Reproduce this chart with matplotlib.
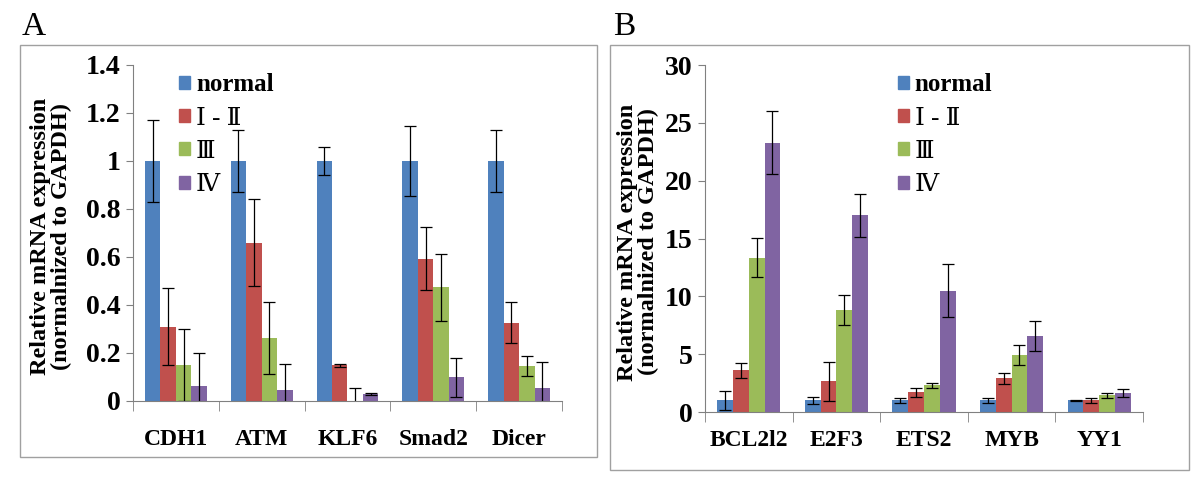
import numpy as np
import matplotlib
matplotlib.use("Agg")
import matplotlib.pyplot as plt
from matplotlib.patches import Rectangle, Patch

plt.rcParams["font.family"] = ["Liberation Serif", "DejaVu Serif"]

series = ["normal", "Ⅰ - Ⅱ", "Ⅲ", "Ⅳ"]
colors = ["#4F81BD", "#C0504D", "#9BBB59", "#8064A2"]

# Panel A: tumour suppressors
genes_a = ["CDH1", "ATM", "KLF6", "Smad2", "Dicer"]
vals_a = [
    [1.0, 1.0, 1.0, 1.0, 1.0],
    [0.31, 0.66, 0.148, 0.593, 0.327],
    [0.152, 0.263, 0.0, 0.473, 0.146],
    [0.062, 0.046, 0.029, 0.098, 0.054],
]
errs_a = [
    [0.17, 0.13, 0.06, 0.145, 0.13],
    [0.16, 0.18, 0.006, 0.13, 0.085],
    [0.15, 0.15, 0.053, 0.14, 0.04],
    [0.14, 0.11, 0.006, 0.08, 0.11],
]

# Panel B: oncogenes
genes_b = ["BCL2l2", "E2F3", "ETS2", "MYB", "YY1"]
vals_b = [
    [1.0, 1.0, 1.0, 1.0, 1.0],
    [3.6, 2.65, 1.7, 2.9, 1.0],
    [13.35, 8.8, 2.3, 4.95, 1.45],
    [23.3, 17.0, 10.5, 6.6, 1.65],
]
errs_b = [
    [0.85, 0.3, 0.25, 0.2, 0.05],
    [0.65, 1.7, 0.4, 0.5, 0.25],
    [1.7, 1.3, 0.2, 0.85, 0.2],
    [2.7, 1.85, 2.3, 1.3, 0.35],
]


def draw_panel(ax, genes, vals, errs, ymax, ystep, leg_pos, xpad, label_x):
    x = np.arange(len(genes))
    w = 0.18
    for i in range(len(series)):
        ax.bar(x + (i - 1.5) * w, vals[i], w, color=colors[i],
               yerr=errs[i], capsize=4,
               error_kw=dict(elinewidth=0.9, capthick=0.9, ecolor="black"))
    ax.set_xlim(-0.5, len(genes) - 0.5)
    ax.set_ylim(0, ymax)
    yt = np.arange(0, ymax + ystep / 2, ystep)
    ax.set_yticks(yt)
    ax.set_yticklabels([f"{v:g}" for v in yt], fontsize=20, fontweight="bold")
    ax.set_xticks(x)
    ax.set_xticklabels(genes, fontsize=17, fontweight="bold")
    ax.set_xticks(np.arange(len(genes) + 1) - 0.5, minor=True)
    ax.tick_params(axis="x", which="major", length=0, pad=xpad)
    ax.tick_params(axis="x", which="minor", length=7, color="#808080", direction="out")
    ax.tick_params(axis="y", length=5, color="#808080", direction="out", pad=4)
    for s in ["top", "right"]:
        ax.spines[s].set_visible(False)
    for s in ["left", "bottom"]:
        ax.spines[s].set_color("#808080")
    ax.set_ylabel("Relative mRNA expression\n(normalnized to GAPDH)",
                  fontsize=17.5, fontweight="bold", linespacing=1.0)
    ax.yaxis.set_label_coords(label_x, 0.49)
    handles = [Patch(color=c) for c in colors]
    leg = ax.legend(handles, series, loc="upper left", bbox_to_anchor=leg_pos,
                    bbox_transform=ax.figure.transFigure, frameon=False,
                    fontsize=18, handlelength=0.42, handleheight=0.42,
                    handletextpad=0.25, labelspacing=0.45, borderpad=0)
    for j, t in enumerate(leg.get_texts()):
        if j == 0:
            t.set_fontweight("bold")
        else:
            t.set_fontfamily(["Liberation Serif", "DejaVu Serif", "Noto Sans CJK SC"])
    return ax


fig = plt.figure(figsize=(12, 4.87), dpi=100)

# panel frames
fig.patches.append(Rectangle((0.0167, 0.0616), 0.481, 0.846, transform=fig.transFigure,
                             fill=False, edgecolor="#a0a0a0", lw=1))
fig.patches.append(Rectangle((0.508, 0.035), 0.483, 0.873, transform=fig.transFigure,
                             fill=False, edgecolor="#a0a0a0", lw=1))
fig.text(0.018, 0.945, "A", fontsize=24, va="center", ha="left")
fig.text(0.511, 0.945, "B", fontsize=24, va="center", ha="left")

ax_a = fig.add_axes([0.1108, 0.1766, 0.3575, 0.69])
draw_panel(ax_a, genes_a, vals_a, errs_a, 1.4, 0.2, (0.139, 0.875), 20, -0.142)

ax_b = fig.add_axes([0.5875, 0.154, 0.365, 0.7125])
draw_panel(ax_b, genes_b, vals_b, errs_b, 30, 5, (0.738, 0.875), 13, -0.105)

fig.savefig("out.png", dpi=100)
